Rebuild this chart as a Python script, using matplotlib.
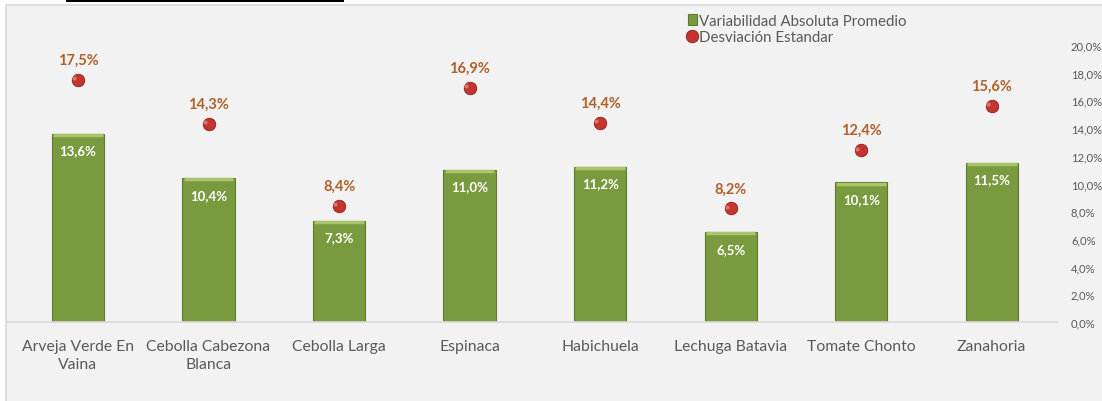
import numpy as np
import matplotlib.pyplot as plt
from matplotlib.patches import Rectangle

productos = ["Arveja Verde En\nVaina", "Cebolla Cabezona\nBlanca", "Cebolla Larga",
             "Espinaca", "Habichuela", "Lechuga Batavia", "Tomate Chonto", "Zanahoria"]
variabilidad = [13.6, 10.4, 7.3, 11.0, 11.2, 6.5, 10.1, 11.5]
desviacion = [17.5, 14.3, 8.4, 16.9, 14.4, 8.2, 12.4, 15.6]
yticks = [0, 2, 4, 6, 8, 10, 12, 14, 16, 18, 20]

plt.rcParams['font.family'] = ['Lato', 'DejaVu Sans']

W, H = 1102, 402
fig = plt.figure(figsize=(W / 100, H / 100), dpi=100, facecolor='white')

# chart area background and the line left over at the top
fig.patches.append(Rectangle((6 / W, -0.01), 1.0, (H - 6) / H + 0.01, transform=fig.transFigure,
                             facecolor='#f2f2f2', edgecolor='#d9d9d9', linewidth=1.2, zorder=-10))
fig.patches.append(Rectangle((66 / W, (H - 3) / H), (344 - 66) / W, 3 / H, transform=fig.transFigure,
                             facecolor='black', edgecolor='none', zorder=-5))

ax = fig.add_axes([7 / W, (H - 323) / H, (1057 - 7) / W, (323 - 46) / H])
ax.set_facecolor('none')

x = np.arange(len(productos))
bars = ax.bar(x, variabilidad, width=0.4, color='#7a9a40', edgecolor='#5e7a2c', linewidth=0.8,
              zorder=2, label='Variabilidad Absoluta Promedio')
# light bevel along the top of each bar
for xi, v in zip(x, variabilidad):
    ax.plot([xi - 0.19, xi + 0.19], [v - 0.1, v - 0.1], color='#a9c46a', linewidth=2.5,
            solid_capstyle='butt', zorder=3)
    ax.text(xi, v - 1.2, f"{v:.1f}%".replace('.', ','), ha='center', va='center',
            color='white', fontsize=9.5, fontweight='bold', zorder=4)

puntos, = ax.plot(x, desviacion, linestyle='none', marker='o', markersize=9,
                  markerfacecolor='#c43530', markeredgecolor='#8e1c1a', markeredgewidth=0.6,
                  zorder=4, label='Desviación Estandar')
ax.plot(x - 0.03, np.array(desviacion) + 0.12, linestyle='none', marker='o', markersize=3,
        markerfacecolor='#e8847c', markeredgecolor='none', alpha=0.8, zorder=5)
for xi, d in zip(x, desviacion):
    ax.text(xi, d + 1.45, f"{d:.1f}%".replace('.', ','), ha='center', va='center',
            color='#b0602a', fontsize=10.5, fontweight='bold', zorder=4)

ax.set_xlim(-0.544, 7.5)
ax.set_ylim(0, 20)
ax.set_xticks(x)
ax.set_xticklabels(productos, fontsize=11.3, color='#595959', linespacing=1.35)
ax.tick_params(axis='x', length=0, pad=12)
ax.yaxis.tick_right()
ax.set_yticks(yticks)
ax.set_yticklabels([f"{t:.1f}%".replace('.', ',') for t in yticks], fontsize=8.1,
                   color='#595959', ha='left')
ax.tick_params(axis='y', length=0, pad=10)
for side in ['top', 'left', 'right']:
    ax.spines[side].set_visible(False)
ax.spines['bottom'].set_color('#d9d9d9')
ax.spines['bottom'].set_linewidth(1.2)

leg = fig.legend(handles=[bars, puntos], loc='upper left',
                 bbox_to_anchor=(680 / W, (H - 7) / H), frameon=False, fontsize=10.8,
                 labelcolor='#595959', handlelength=0.6, handletextpad=0.15,
                 labelspacing=0.15, borderpad=0)

fig.savefig('out.png', dpi=100)
